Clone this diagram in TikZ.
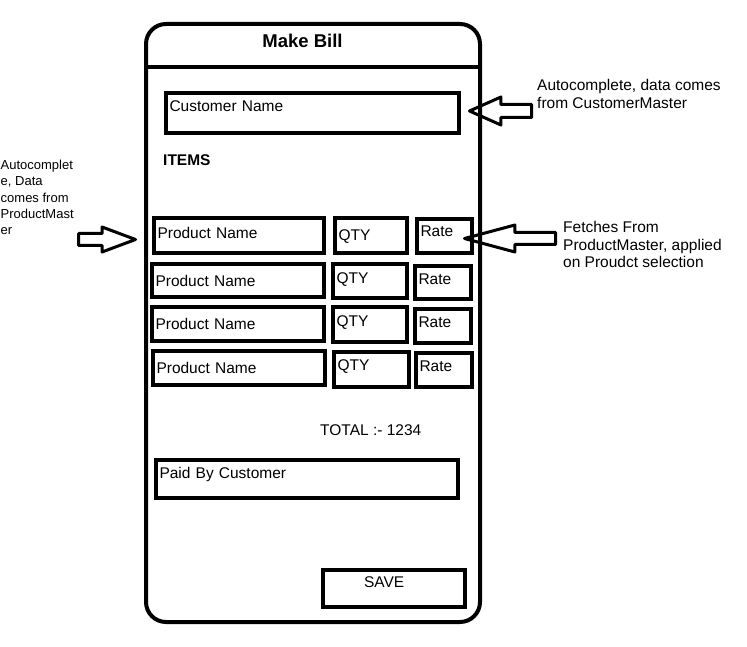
\documentclass[tikz,border=0pt]{standalone}
\usepackage{fontspec}
\setmainfont{Liberation Sans}
\usetikzlibrary{shapes.arrows,calc}
\tikzset{
  fld/.style={draw,line width=4.5pt,anchor=north west,inner xsep=3.5pt,inner ysep=0pt,outer sep=0pt,
    align=left,text height=11pt,text depth=0pt,font=\fontsize{15.5}{18}\selectfont},
  note/.style={anchor=north west,inner sep=0pt,align=left,font=\fontsize{15.5}{17.5}\selectfont},
  lbl/.style={inner sep=0pt,font=\fontsize{15.5}{18}\selectfont},
  blk/.style={single arrow,draw,line width=3pt,line join=round,inner xsep=0pt,outer sep=0pt,
    text height=0pt,text depth=0pt,anchor=tip},
}
\begin{document}
\begin{tikzpicture}[x=1pt,y=-1pt]
  \useasboundingbox (0,0) rectangle (747,647);
  % phone frame
  \node[draw,line width=4pt,rounded corners=20pt,minimum width=334pt,minimum height=598pt,
    inner sep=0pt,outer sep=0pt,anchor=north west] (phone) at (146,24) {};
  \draw[line width=4.5pt] ($(phone.north west)+(0,43)$) -- ($(phone.north east)+(0,43)$);
  \node[lbl,font=\fontsize{18.5}{22}\selectfont\bfseries] (title) at (302.5,41) {Make Bill};
  \node[fld,text width=286pt,minimum height=40pt,text depth=14pt] (cust) at (166,93) {Customer Name};
  \node[lbl,font=\fontsize{15.5}{18}\selectfont\bfseries,anchor=west] (items) at (163,160) {ITEMS};
  % item rows
  \node[fld,text width=163pt,minimum height=35pt,text depth=5pt] (pa) at (154,218) {Product Name};
  \node[fld,text width=65pt,minimum height=35pt,text depth=1pt] (qa) at (335,218) {QTY};
  \node[fld,text width=48pt,minimum height=34pt,text depth=10pt] (ra) at (417,219) {Rate};
  \node[fld,text width=165pt,minimum height=33pt] (pb) at (152,264) {Product Name};
  \node[fld,text width=67pt,minimum height=34pt,text depth=6pt] (qb) at (333,264) {QTY};
  \node[fld,text width=49pt,minimum height=33pt,text depth=7pt] (rb) at (415,266) {Rate};
  \node[fld,text width=165pt,minimum height=34pt,text depth=1pt] (pc) at (152,307) {Product Name};
  \node[fld,text width=67pt,minimum height=35pt,text depth=7pt] (qc) at (333,307) {QTY};
  \node[fld,text width=49pt,minimum height=34pt,text depth=8pt] (rc) at (415,309) {Rate};
  \node[fld,text width=165pt,minimum height=34pt,text depth=1pt] (pd) at (153,351) {Product Name};
  \node[fld,text width=68pt,minimum height=35pt,text depth=9pt] (qd) at (334,352) {QTY};
  \node[fld,text width=49pt,minimum height=34pt,text depth=8pt] (rd) at (416,353) {Rate};
  \node[lbl,anchor=west] (total) at (320,430) {TOTAL :- 1234};
  \node[fld,text width=295pt,minimum height=38pt,text depth=12pt] (paid) at (156,460) {Paid By Customer};
  \node[fld,text width=135pt,minimum height=37pt,text depth=13pt] (save) at (323,570) {\hspace*{37.5pt}SAVE};
  % notes and arrows
  \node[note,font=\fontsize{13}{16.25}\selectfont] (notel) at (0.5,160)
    {Autocomplet\\e, Data\\comes from\\ProductMast\\er};
  \node[note,font=\fontsize{15.5}{18}\selectfont] (notec) at (537,79.5)
    {Autocomplete, data comes\\from CustomerMaster};
  \node[note] (noter) at (563,221.5) {Fetches From\\ProductMaster, applied\\on Proudct selection};
  \node[blk,minimum height=57pt,inner ysep=4.5pt,single arrow head extend=6.5pt,
    single arrow tip angle=41] (arrl) at (135.5,239.5) {};
  \node[blk,shape border rotate=180,minimum height=62pt,inner ysep=5pt,
    single arrow head extend=7.5pt,single arrow tip angle=48] (arrc) at (469.5,111) {};
  \node[blk,shape border rotate=180,minimum height=91pt,inner ysep=4.5pt,
    single arrow head extend=7.5pt,single arrow tip angle=30] (arrr) at (464.5,238.5) {};
\end{tikzpicture}
\end{document}
